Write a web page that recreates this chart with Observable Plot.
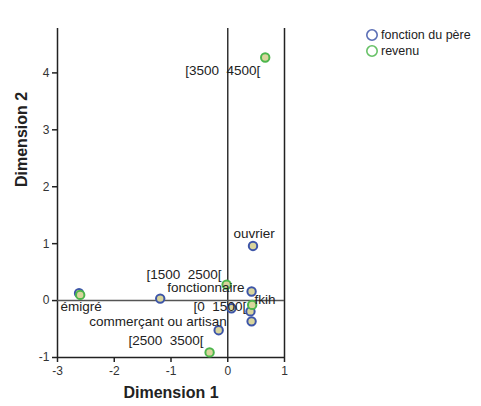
<!DOCTYPE html>
<html>
<head>
<meta charset="utf-8">
<script src="https://cdn.jsdelivr.net/npm/d3@7"></script>
<script src="https://cdn.jsdelivr.net/npm/@observablehq/plot@0.6"></script>
<style>
  html, body { margin: 0; padding: 0; background: #fff; }
  #wrap { position: relative; width: 481px; height: 406px; font-family: "Liberation Sans", Arial, sans-serif; }
  #legend { position: absolute; left: 365px; top: 27px; font-size: 12.5px; color: #222; line-height: 16px; }
  #legend div { display: flex; align-items: center; height: 16px; }
  #legend svg { margin-right: 2px; }
</style>
</head>
<body>
<div id="wrap">
  <div id="chart"></div>
  <div id="legend"></div>
</div>
<script>
// Category points: "fonction du père"
const fonctionNames = ["émigré", "(sans étiquette 1)", "commerçant ou artisan", "(sans étiquette 2)", "fonctionnaire", "ouvrier", "fkih", "(sans étiquette 3)"];
const fonctionDim1 = [-2.62, -1.19, -0.16, 0.065, 0.42, 0.445, 0.40, 0.42];
const fonctionDim2 = [0.13, 0.035, -0.52, -0.135, 0.16, 0.96, -0.19, -0.365];
const fonctionShown = [true, false, true, false, true, true, true, false];

// Category points: "revenu"
const revenuNames = ["(sans étiquette)", "[1500  2500[", "[0  1500[", "[2500  3500[", "[3500  4500["];
const revenuDim1 = [-2.60, -0.02, 0.43, -0.32, 0.66];
const revenuDim2 = [0.10, 0.28, -0.076, -0.91, 4.27];
const revenuShown = [false, true, true, true, true];

const seriesNames = ["fonction du père", "revenu"];
const xTicks = [-3, -2, -1, 0, 1];
const yTicks = [-1, 0, 1, 2, 3, 4];
const xDomain = [-3, 1];
const yDomain = [-1, 4.78];
const axisTitles = ["Dimension 1", "Dimension 2"];

const colors = {"fonction du père": "#3d55a8", "revenu": "#4cb64c"};
const fillColor = "#d9d59c";

const fonction = fonctionNames.map((name, i) => ({series: seriesNames[0], name, x: fonctionDim1[i], y: fonctionDim2[i], shown: fonctionShown[i]}));
const revenu = revenuNames.map((name, i) => ({series: seriesNames[1], name, x: revenuDim1[i], y: revenuDim2[i], shown: revenuShown[i]}));

// label placement (style, not data)
const layout = {
  "émigré": {anchor: "middle", dx: 2, dy: 13},
  "commerçant ou artisan": {anchor: "end", dx: 8, dy: -9},
  "fonctionnaire": {anchor: "end", dx: -7, dy: -4},
  "ouvrier": {anchor: "middle", dx: 1, dy: -12},
  "fkih": {anchor: "start", dx: 4, dy: -12},
  "[1500  2500[": {anchor: "end", dx: -5, dy: -10},
  "[0  1500[": {anchor: "end", dx: -6, dy: 2},
  "[2500  3500[": {anchor: "end", dx: -6, dy: -12},
  "[3500  4500[": {anchor: "end", dx: -5, dy: 13}
};
const labelled = [...fonction, ...revenu].filter(d => d.shown);
const labelMarks = labelled.map(d => Plot.text([d], {
  x: "x", y: "y", text: "name",
  textAnchor: layout[d.name].anchor, dx: layout[d.name].dx, dy: layout[d.name].dy,
  fontSize: 13.5, fill: "#222"
}));

const fmt = d => String(d);

const chart = Plot.plot({
  width: 481, height: 406,
  marginLeft: 57, marginRight: 197, marginTop: 28, marginBottom: 49,
  style: {fontFamily: "Liberation Sans, Arial, sans-serif", background: "#fff", overflow: "visible"},
  x: {domain: xDomain, ticks: xTicks, label: null, tickFormat: fmt},
  y: {domain: yDomain, ticks: yTicks, label: null, tickFormat: fmt},
  marks: [
    Plot.ruleX([xDomain[0]], {stroke: "#222", strokeWidth: 1.5}),
    Plot.ruleX([xDomain[1]], {stroke: "#222", strokeWidth: 1.5}),
    Plot.ruleY([yDomain[0]], {stroke: "#222", strokeWidth: 1.5}),
    Plot.ruleX([0], {stroke: "#333", strokeWidth: 1.5}),
    Plot.ruleY([0], {stroke: "#555", strokeWidth: 1.5}),
    Plot.axisX({ticks: xTicks, tickFormat: fmt, tickSize: 5, tickPadding: 4, fontSize: 12, stroke: "#222", strokeWidth: 1.5, fill: "#333", label: null}),
    Plot.axisY({ticks: yTicks, tickFormat: fmt, tickSize: 5, tickPadding: 3, fontSize: 12, stroke: "#222", strokeWidth: 1.5, fill: "#333", label: null}),
    Plot.dot(fonction, {x: "x", y: "y", r: 4.2, stroke: colors["fonction du père"], strokeWidth: 2, fill: fillColor}),
    Plot.dot(revenu, {x: "x", y: "y", r: 4.2, stroke: colors["revenu"], strokeWidth: 2, fill: fillColor}),
    ...labelMarks,
    Plot.text([axisTitles[0]], {frameAnchor: "bottom", dy: 40, fontSize: 16, fontWeight: "bold", fill: "#222"}),
    Plot.text([axisTitles[1]], {frameAnchor: "left", rotate: -90, dx: -36, dy: -6, fontSize: 16, fontWeight: "bold", fill: "#222"})
  ]
});
document.getElementById("chart").appendChild(chart);

const legend = document.getElementById("legend");
seriesNames.forEach(s => {
  const row = document.createElement("div");
  row.innerHTML = `<svg width="14" height="14"><circle cx="7" cy="7" r="5.2" fill="none" stroke="${colors[s]}" stroke-width="1.6" opacity="0.85"/></svg><span>${s}</span>`;
  legend.appendChild(row);
});
</script>
</body>
</html>
